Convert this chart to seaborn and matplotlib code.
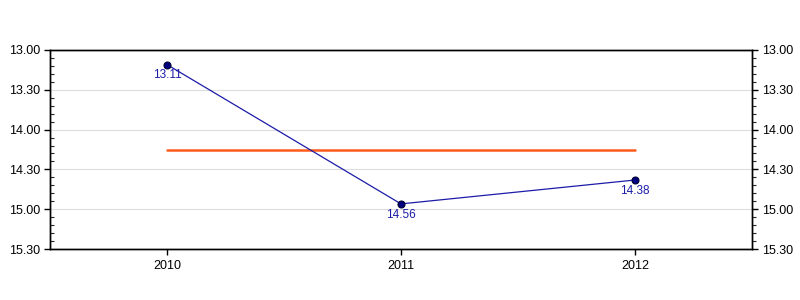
import matplotlib
matplotlib.use("Agg")
import matplotlib.pyplot as plt
import matplotlib.ticker as mticker
import seaborn as sns
import pandas as pd
import numpy as np

years = ["2010", "2011", "2012"]
times = ["13.11", "14.56", "14.38"]   # mm.ss

def to_sec(s):
    m, sec = s.split(".")
    return int(m) * 60 + int(sec)

secs = [to_sec(t) for t in times]
mean_sec = float(np.mean(secs))

df = pd.DataFrame({"year": years, "sec": secs, "x": range(len(years))})

sns.set_theme(style="white")
plt.rcParams["font.family"] = ["Liberation Sans", "DejaVu Sans"]

fig = plt.figure(figsize=(8, 3), dpi=100)
ax = fig.add_axes([50/800, 51/300, 702/800, 199/300])

ax.set_axisbelow(True)
ax.yaxis.grid(True, color="#dddddd", linewidth=0.8)

sns.lineplot(data=df, x="x", y="sec", ax=ax, color="#1c1ca8", linewidth=0.9,
             marker="o", markersize=5, markerfacecolor="#000080",
             markeredgecolor="#000030", markeredgewidth=0.8, zorder=3)
ax.plot([0, len(years) - 1], [mean_sec, mean_sec], color="#ff5a1a", linewidth=1.8, zorder=2)

for i, (s, t) in enumerate(zip(secs, times)):
    ax.annotate(t, (i, s), xytext=(0, -3.5), textcoords="offset points",
                ha="center", va="top", fontsize=8.5, color="#1c1ca8")

fmt = mticker.FuncFormatter(lambda v, p: f"{int(v)//60}.{int(v)%60:02d}")

ax.set_xlim(-0.5, len(years) - 0.5)
ax.set_ylim(930, 780)
ax.set_xticks(range(len(years)))
ax.set_xticklabels(years)
ax.yaxis.set_major_locator(mticker.MultipleLocator(30))
ax.yaxis.set_minor_locator(mticker.MultipleLocator(6))
ax.yaxis.set_major_formatter(fmt)
ax.set_xlabel("")
ax.set_ylabel("")

ax2 = ax.twinx()
ax2.set_ylim(ax.get_ylim())
ax2.yaxis.set_major_locator(mticker.MultipleLocator(30))
ax2.yaxis.set_minor_locator(mticker.MultipleLocator(6))
ax2.yaxis.set_major_formatter(fmt)

for a in (ax, ax2):
    for sp in a.spines.values():
        sp.set_color("black")
        sp.set_linewidth(1.0)

ax.tick_params(axis="y", which="major", left=True, right=False, labelleft=True, labelright=False,
               direction="out", length=4, width=1, labelsize=9, colors="black", pad=3)
ax.tick_params(axis="y", which="minor", left=True, right=False, direction="in", length=3, width=0.8)
ax2.tick_params(axis="y", which="major", right=True, labelright=True, direction="out",
                length=4, width=1, labelsize=9, colors="black", pad=3)
ax2.tick_params(axis="y", which="minor", right=True, direction="out", length=3, width=0.8)
ax.tick_params(axis="x", which="major", bottom=True, direction="out", length=4, width=1,
               labelsize=9, colors="black", pad=4)

fig.savefig("out.png", dpi=100, facecolor="white")
